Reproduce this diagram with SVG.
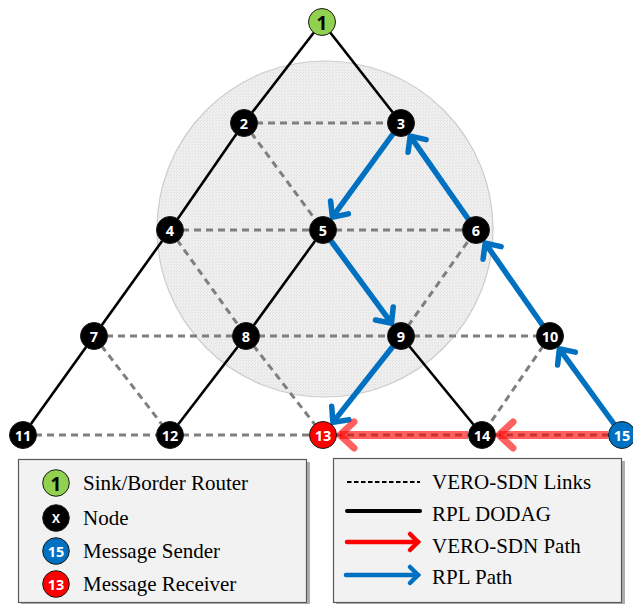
<svg xmlns="http://www.w3.org/2000/svg" width="633" height="604" viewBox="0 0 633 604">
  <defs>
    <style>
      .dodag { stroke: #000; stroke-width: 2.6; fill: none; }
      .link { stroke: #7f7f7f; stroke-width: 3; stroke-dasharray: 7 5; fill: none; }
      .rpl { stroke: #0070c0; stroke-width: 5.5; fill: none; marker-end: url(#blueHead); }
      .vero { stroke: #ff0000; stroke-opacity: 0.62; stroke-width: 8; fill: none; marker-end: url(#redHead); }
      .node circle { stroke: #1a1a1a; stroke-width: 1; }
      .plain circle { fill: #000; }
      .node text { font-family: "Open Sans", "Liberation Sans", sans-serif; font-weight: bold; font-size: 14.5px; fill: #fff; text-anchor: middle; dominant-baseline: central; }
      .legend-box { fill: #f2f2f2; stroke: #595959; stroke-width: 1.2; }
      .legend-shadow { fill: #8c8c8c; opacity: 0.7; }
      .legend-text { font-family: "Liberation Serif", "Times New Roman", serif; font-size: 21px; fill: #000; }
    </style>
    <!-- fine grain for the coverage disc -->
    <pattern id="grain" width="3" height="3" patternUnits="userSpaceOnUse">
      <rect width="3" height="3" fill="#efefef"/>
      <rect x="0" y="0" width="1" height="1" fill="#dedede"/>
      <rect x="2" y="1" width="1" height="1" fill="#e3e3e3"/>
    </pattern>
    <marker id="blueHead" markerUnits="userSpaceOnUse" orient="auto" overflow="visible" markerWidth="1" markerHeight="1" refX="0" refY="0">
      <path d="M -12 -11 L 0 0 L -12 11" fill="none" stroke="#0070c0" stroke-width="5.5" stroke-linecap="round" stroke-linejoin="miter"/>
    </marker>
    <marker id="redHead" markerUnits="userSpaceOnUse" orient="auto" overflow="visible" markerWidth="1" markerHeight="1" refX="0" refY="0">
      <path d="M -14 -13 L 0 0 L -14 13" fill="none" stroke="#ff0000" stroke-opacity="0.62" stroke-width="7" stroke-linecap="round" stroke-linejoin="miter"/>
    </marker>
    <marker id="legendRed" markerUnits="userSpaceOnUse" orient="auto" overflow="visible" markerWidth="1" markerHeight="1" refX="0" refY="0">
      <path d="M -8 -8 L 0 0 L -8 8" fill="none" stroke="#ff0000" stroke-width="4.5" stroke-linecap="round"/>
    </marker>
    <marker id="legendBlue" markerUnits="userSpaceOnUse" orient="auto" overflow="visible" markerWidth="1" markerHeight="1" refX="0" refY="0">
      <path d="M -8 -8 L 0 0 L -8 8" fill="none" stroke="#0070c0" stroke-width="4.5" stroke-linecap="round"/>
    </marker>
  </defs>

  <rect width="633" height="604" fill="#fff"/>

  <!-- coverage area around the sink -->
  <circle id="coverage" cx="325" cy="229" r="168" fill="url(#grain)" stroke="#cccccc" stroke-width="1.2"/>

  <g id="connectors">
    <!-- VERO-SDN links -->
    <g id="vero-links">
      <line class="link" x1="244" y1="123" x2="401" y2="123"/>
      <line class="link" x1="244" y1="123" x2="323" y2="230"/>
      <line class="link" x1="170" y1="230" x2="323" y2="230"/>
      <line class="link" x1="323" y1="230" x2="476" y2="230"/>
      <line class="link" x1="170" y1="230" x2="246" y2="336"/>
      <line class="link" x1="94" y1="336" x2="246" y2="336"/>
      <line class="link" x1="246" y1="336" x2="401" y2="336"/>
      <line class="link" x1="401" y1="336" x2="550" y2="336"/>
      <line class="link" x1="401" y1="336" x2="476" y2="230"/>
      <line class="link" x1="94" y1="336" x2="170" y2="435"/>
      <line class="link" x1="246" y1="336" x2="323" y2="435"/>
      <line class="link" x1="550" y1="336" x2="482" y2="435"/>
      <line class="link" x1="23" y1="435" x2="170" y2="435"/>
      <line class="link" x1="170" y1="435" x2="323" y2="435"/>
      <line class="link" x1="323" y1="435" x2="482" y2="435"/>
      <line class="link" x1="482" y1="435" x2="622" y2="435"/>
    </g>
    <!-- RPL DODAG -->
    <g id="rpl-dodag">
      <line class="dodag" x1="322" y1="22" x2="244" y2="123"/>
      <line class="dodag" x1="322" y1="22" x2="401" y2="123"/>
      <line class="dodag" x1="244" y1="123" x2="170" y2="230"/>
      <line class="dodag" x1="170" y1="230" x2="94" y2="336"/>
      <line class="dodag" x1="94" y1="336" x2="23" y2="435"/>
      <line class="dodag" x1="323" y1="230" x2="246" y2="336"/>
      <line class="dodag" x1="246" y1="336" x2="170" y2="435"/>
      <line class="dodag" x1="401" y1="336" x2="482" y2="435" stroke-width="2"/>
    </g>
    <!-- RPL path from 15 to 13 -->
    <g id="rpl-path">
      <line class="rpl" x1="614.4" y1="424.5" x2="559.4" y2="348.9"/>
      <line class="rpl" x1="542.6" y1="325.3" x2="485.2" y2="243.1"/>
      <line class="rpl" x1="468.5" y1="219.4" x2="410.2" y2="136.1"/>
      <line class="rpl" x1="393.3" y1="133.5" x2="332.4" y2="217.1"/>
      <line class="rpl" x1="330.7" y1="240.5" x2="391.5" y2="323.1"/>
      <line class="rpl" x1="393" y1="346.2" x2="332.9" y2="422.4"/>
    </g>
    <!-- VERO-SDN path from 15 to 13 -->
    <g id="vero-path">
      <line class="vero" x1="608" y1="435" x2="499" y2="435"/>
      <line class="vero" x1="468" y1="435" x2="340" y2="435"/>
    </g>
  </g>

  <g id="nodes">
    <g id="n1" class="node"><circle cx="322" cy="22" r="13.5" fill="#92d050"/><text x="322" y="23" style="fill:#000;font-size:19px">1</text></g>
    <g id="n2" class="node plain"><circle cx="244" cy="123" r="13.5"/><text x="244" y="123">2</text></g>
    <g id="n3" class="node plain"><circle cx="401" cy="123" r="13.5"/><text x="401" y="123">3</text></g>
    <g id="n4" class="node plain"><circle cx="170" cy="230" r="13.5"/><text x="170" y="230">4</text></g>
    <g id="n5" class="node plain"><circle cx="323" cy="230" r="13.5"/><text x="323" y="230">5</text></g>
    <g id="n6" class="node plain"><circle cx="476" cy="230" r="13.5"/><text x="476" y="230">6</text></g>
    <g id="n7" class="node plain"><circle cx="94" cy="336" r="13.5"/><text x="94" y="336">7</text></g>
    <g id="n8" class="node plain"><circle cx="246" cy="336" r="13.5"/><text x="246" y="336">8</text></g>
    <g id="n9" class="node plain"><circle cx="401" cy="336" r="13.5"/><text x="401" y="336">9</text></g>
    <g id="n10" class="node plain"><circle cx="550" cy="336" r="13.5"/><text x="550" y="336">10</text></g>
    <g id="n11" class="node plain"><circle cx="23" cy="435" r="13.5"/><text x="23" y="435">11</text></g>
    <g id="n12" class="node plain"><circle cx="170" cy="435" r="13.5"/><text x="170" y="435">12</text></g>
    <g id="n13" class="node"><circle cx="323" cy="435" r="13.5" fill="#ff0000"/><text x="323" y="435">13</text></g>
    <g id="n14" class="node plain"><circle cx="482" cy="435" r="13.5"/><text x="482" y="435">14</text></g>
    <g id="n15" class="node"><circle cx="622" cy="435" r="13.5" fill="#0070c0"/><text x="622" y="435">15</text></g>
  </g>

  <!-- node legend -->
  <g id="legend-nodes">
    <rect class="legend-shadow" x="21" y="462" width="289" height="144"/>
    <rect class="legend-box" x="18.5" y="459.5" width="288" height="143"/>
    <g class="node"><circle cx="56" cy="483" r="13.3" fill="#92d050"/><text x="56" y="484" style="fill:#000;font-size:19px">1</text></g>
    <g class="node plain"><circle cx="56" cy="518" r="13.3"/><text x="56" y="518" style="font-size:12px">X</text></g>
    <g class="node"><circle cx="56" cy="551" r="13.3" fill="#0070c0"/><text x="56" y="551">15</text></g>
    <g class="node"><circle cx="56" cy="584" r="13.3" fill="#ff0000"/><text x="56" y="584">13</text></g>
    <text class="legend-text" x="83" y="490">Sink/Border Router</text>
    <text class="legend-text" x="83" y="525">Node</text>
    <text class="legend-text" x="83" y="558">Message Sender</text>
    <text class="legend-text" x="83" y="591">Message Receiver</text>
  </g>

  <!-- link legend -->
  <g id="legend-links">
    <rect class="legend-shadow" x="336" y="461" width="289" height="145"/>
    <rect class="legend-box" x="333.5" y="458.5" width="288" height="144"/>
    <line x1="347" y1="482" x2="420" y2="482" stroke="#000" stroke-width="2" stroke-dasharray="4.5 2.5"/>
    <line x1="347" y1="511" x2="420" y2="511" stroke="#000" stroke-width="4" stroke-linecap="round"/>
    <line x1="347" y1="542" x2="418" y2="542" stroke="#ff0000" stroke-width="4.5" stroke-linecap="round" marker-end="url(#legendRed)"/>
    <line x1="346" y1="575" x2="418" y2="575" stroke="#0070c0" stroke-width="4.5" stroke-linecap="round" marker-end="url(#legendBlue)"/>
    <text class="legend-text" x="432" y="489">VERO-SDN Links</text>
    <text class="legend-text" x="432" y="521">RPL DODAG</text>
    <text class="legend-text" x="432" y="553">VERO-SDN Path</text>
    <text class="legend-text" x="432" y="584">RPL Path</text>
  </g>
</svg>
